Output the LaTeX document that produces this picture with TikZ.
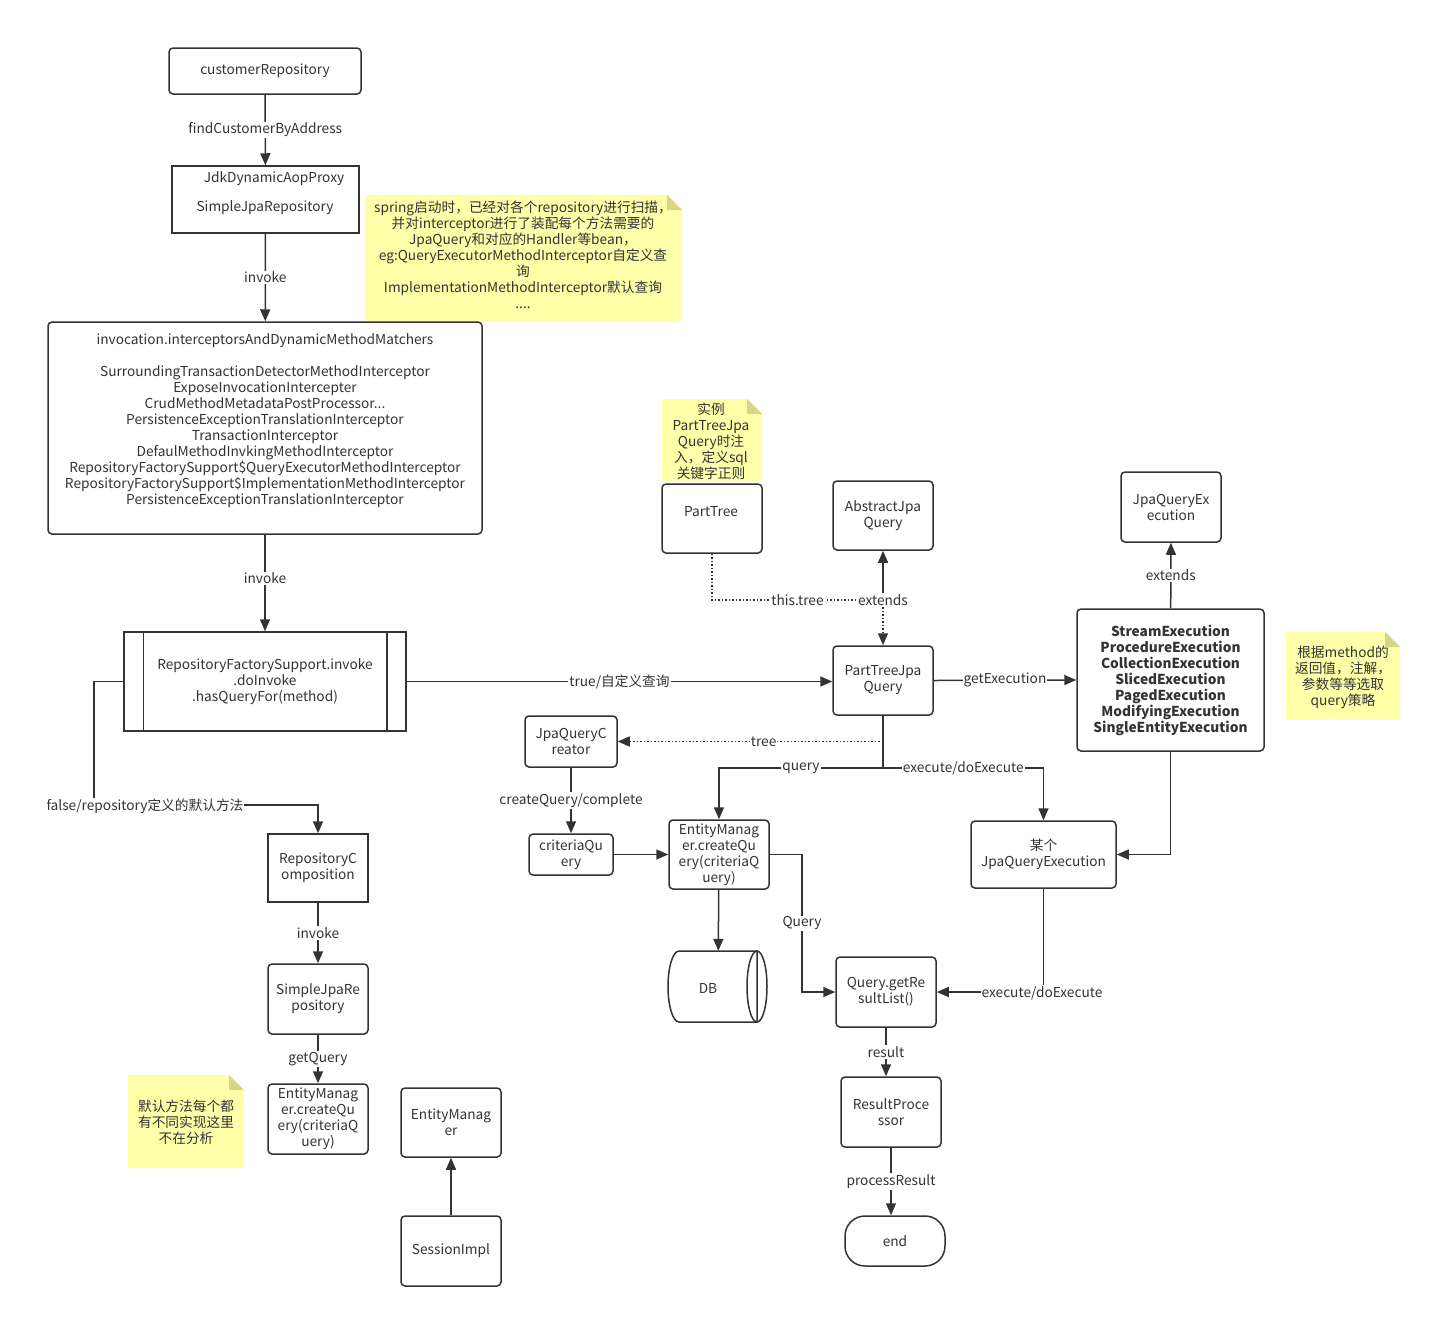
\documentclass[tikz,border=0pt]{standalone}
\usepackage{fontspec}
\setmainfont{Noto Sans CJK SC}
\usetikzlibrary{arrows.meta,positioning,calc}
\definecolor{lc}{HTML}{333333}
\definecolor{tc}{HTML}{333333}
\definecolor{notey}{HTML}{FFFFAA}
\definecolor{foldc}{HTML}{D6D68A}
\newcommand\stickynote[5]{%
  \fill[notey] (#1,#2) -- (#3-15,#2) -- (#3,#2+15) -- (#3,#4) -- (#1,#4) -- cycle;
  \fill[foldc] (#3-15,#2) -- (#3-15,#2+15) -- (#3,#2+15) -- cycle;
}
\tikzset{
  box/.style={draw=lc, line width=1.5pt, rounded corners=4pt, fill=white, align=center, inner sep=0pt, text=tc},
  sqbox/.style={box, rounded corners=0pt},
  wh/.style 2 args={minimum width=#1, minimum height=#2},
  arr/.style={draw=lc, line width=1.5pt, -{Triangle[length=12pt,width=10pt]}},
  ln/.style={draw=lc, line width=1.5pt},
  dotln/.style={draw=lc, line width=1.5pt, dash pattern=on 1.5pt off 2pt},
  dotarr/.style={dotln, -{Triangle[length=12pt,width=10pt]}},
  lbl/.style={fill=white, inner sep=1pt, text=tc},
  ntext/.style={align=center, text=tc, inner sep=0pt},
}
\begin{document}
\begin{tikzpicture}[x=1pt, y=-1pt, font=\fontsize{13.7}{16}\selectfont]
\path[use as bounding box, fill=white] (0,0) rectangle (1432,1318);

% sticky notes
\stickynote{365}{195}{682}{321}{}
\node[ntext] (topnote) at (523,255) {spring启动时，已经对各个repository进行扫描，\\并对interceptor进行了装配每个方法需要的\\JpaQuery和对应的Handler等bean，\\eg:QueryExecutorMethodInterceptor自定义查\\询\\ImplementationMethodInterceptor默认查询\\....};
\stickynote{662}{399}{762}{481}{}
\node[ntext] (ptnote) at (711,441) {实例\\PartTreeJpa\\Query时注\\入，定义sql\\关键字正则};
\stickynote{1286}{632}{1400}{719}{}
\node[ntext] (rnote) at (1343,677) {根据method的\\返回值，注解，\\参数等等选取\\query策略};
\stickynote{128}{1075}{244}{1168}{}
\node[ntext] (blnote) at (186,1122) {默认方法每个都\\有不同实现这里\\不在分析};

% left column
\node[box, wh={192}{46}] (cr) at (265,71) {customerRepository};
\node[sqbox, wh={187}{67}] (jdk) at (265.5,199.5) {};
\node[ntext] (jdkt) at (265,193.5) {\hspace*{18pt}JdkDynamicAopProxy\\[13pt]SimpleJpaRepository};
\node[box, wh={434}{212}] (inv) at (265,428) {};
\node[ntext] (invt) at (265,421) {invocation.interceptorsAndDynamicMethodMatchers\\[16pt]
SurroundingTransactionDetectorMethodInterceptor\\
ExposeInvocationIntercepter\\
CrudMethodMetadataPostProcessor...\\
PersistenceExceptionTranslationInterceptor\\
TransactionInterceptor\\
DefaulMethodInvkingMethodInterceptor\\
RepositoryFactorySupport\$QueryExecutorMethodInterceptor\\
RepositoryFactorySupport\$ImplementationMethodInterceptor\\
PersistenceExceptionTranslationInterceptor};
\node[sqbox, wh={282}{99}] (rfs) at (265,681.5) {RepositoryFactorySupport.invoke\\.doInvoke\\.hasQueryFor(method)};
\draw[ln] ($(rfs.north west)+(20,0)$) -- ($(rfs.south west)+(20,0)$);
\draw[ln] ($(rfs.north east)+(-20,0)$) -- ($(rfs.south east)+(-20,0)$);

\node[sqbox, wh={100}{68}] (rc) at (318,868) {RepositoryC\\omposition};
\node[box, wh={100}{70}] (sjr) at (318,999) {SimpleJpaRe\\pository};
\node[box, wh={100}{70}] (emq1) at (318,1119) {EntityManag\\er.createQu\\ery(criteriaQ\\uery)};
\node[box, wh={100}{69}] (em) at (451,1122.5) {EntityManag\\er};
\node[box, wh={100}{70}] (si) at (451,1251) {SessionImpl};

% middle / right
\node[box, wh={100}{69}] (pt) at (712,518.5) {};
\node[ntext] (ptt) at (711,512) {PartTree};
\node[box, wh={100}{69}] (ajq) at (883,515.5) {AbstractJpa\\Query};
\node[box, wh={100}{69}] (ptjq) at (883,680.5) {PartTreeJpa\\Query};
\node[box, wh={100}{70}] (jqe) at (1171,507) {JpaQueryEx\\ecution};
\node[box, wh={187}{142}, font=\fontsize{13.7}{16}\selectfont\bfseries] (se) at (1170.5,680) {StreamExecution\\ProcedureExecution\\CollectionExecution\\SlicedExecution\\PagedExecution\\ModifyingExecution\\SingleEntityExecution};
\node[box, wh={145}{67}] (mq) at (1043.5,854.5) {某个\\JpaQueryExecution};
\node[box, wh={92}{51}] (jqc) at (571,741.5) {JpaQueryC\\reator};
\node[box, wh={84}{41}] (cq) at (571,854.5) {criteriaQu\\ery};
\node[box, wh={100}{69}] (emq2) at (719,854.5) {EntityManag\\er.createQu\\ery(criteriaQ\\uery)};
\node[box, wh={100}{70}] (qr) at (886,992) {Query.getRe\\sultList()};
\node[box, wh={100}{70}] (rp) at (891,1112) {ResultProce\\ssor};
\node[box, wh={100}{50}, rounded corners=20pt] (endn) at (895,1241) {end};

% DB cylinder
\node[inner sep=0pt, wh={99}{71}] (db) at (718,986.5) {};
\draw[ln, fill=white] (679,951) -- (757,951) -- (757,1022) -- (679,1022)
  .. controls (672.9,1022) and (668,1006.1) .. (668,986.5)
  .. controls (668,966.9) and (672.9,951) .. (679,951) -- cycle;
\draw[ln] (757,986.5) ellipse[x radius=10, y radius=35.5];
\node[text=tc] (dbt) at (708,988) {DB};

% coordinates
\coordinate (f1) at (94,681.5);
\coordinate (f2) at (94,805);
\coordinate (f3) at (318,805);
\coordinate (t1) at (712,600);
\coordinate (tj) at (883,600);
\coordinate (q0) at (883,768);
\coordinate (q1) at (719,768);
\coordinate (q2) at (1043.5,768);
\coordinate (tr) at (883,741.5);
\coordinate (k1) at (802,854.5);
\coordinate (k2) at (802,992);
\coordinate (e1) at (1043.5,992);

% connectors
\draw[arr] (cr) -- node[lbl] {findCustomerByAddress} (jdk);
\draw[arr] (jdk) -- node[lbl] {invoke} (inv);
\draw[arr] (inv) -- node[lbl, pos=0.45] {invoke} (rfs);
\draw[arr] (rfs.east) -- node[lbl] {true/自定义查询} (rfs.east -| ptjq.west);
\draw[arr] (rfs.west) -- (f1) -- (f2) -- (f3) -- (rc.north);
\node[lbl] (flbl) at (145,806) {false/repository定义的默认方法};
\draw[arr] (rc) -- node[lbl] {invoke} (sjr);
\draw[arr] (sjr) -- node[lbl] {getQuery} (emq1);
\draw[arr] (si) -- (em);

\draw[arr] (tj) -- (ajq.south);
\draw[dotln] (pt.south) -- (t1) -- node[lbl] {this.tree} (tj);
\draw[dotarr] (tj) -- (ptjq.north);
\node[lbl] (extl) at (tj) {extends};

\draw[arr] (ptjq.east) -- node[lbl] {getExecution} (se.west);
\draw[arr] (se) -- node[lbl] {extends} (jqe);
\draw[arr] (se.south) |- (mq.east);
\draw[ln] (ptjq.south) -- (q0);
\draw[arr] (q0) -- node[lbl] {query} (q1) -- (emq2.north);
\draw[arr] (q0) -- node[lbl] {execute/doExecute} (q2) -- (mq.north);
\draw[dotarr] (tr) -- node[lbl, pos=0.45] {tree} (jqc.east);
\draw[arr] (jqc) -- node[lbl] {createQuery/complete} (cq);
\draw[arr] (cq.east) -- (cq.east -| emq2.west);
\draw[arr] (emq2) -- (db);
\draw[arr] (emq2.east) -- (k1) -- node[lbl, pos=0.5] {Query} (k2) -- (qr.west);
\draw[arr] (mq.south) -- (e1) -- (qr.east);
\node[lbl] (exl2) at (1042,993) {execute/doExecute};
\draw[arr] (qr.south) -- node[lbl] {result} (qr.south |- rp.north);
\draw[arr] (rp.south) -- node[lbl] {processResult} (rp.south |- endn.north);
\end{tikzpicture}
\end{document}
